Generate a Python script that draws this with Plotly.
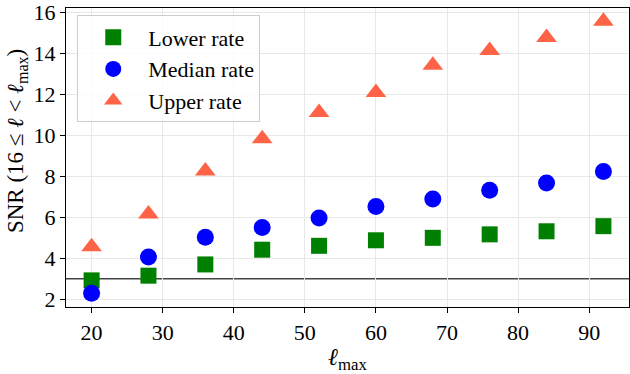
import plotly.graph_objects as go

ell_max = [20, 28, 36, 44, 52, 60, 68, 76, 84, 92]
lower_rate = [2.92, 3.15, 3.70, 4.42, 4.61, 4.88, 5.00, 5.17, 5.32, 5.57]
median_rate = [2.29, 4.06, 5.03, 5.51, 5.97, 6.53, 6.90, 7.33, 7.68, 8.24]
upper_rate = [4.56, 6.17, 8.26, 9.84, 11.12, 12.10, 13.43, 14.15, 14.79, 15.58]
threshold = 3.0

x_ticks = [20, 30, 40, 50, 60, 70, 80, 90]
y_ticks = [2, 4, 6, 8, 10, 12, 14, 16]

FONT = "Liberation Serif"

fig = go.Figure()
fig.add_trace(go.Scatter(x=ell_max, y=lower_rate, mode="markers", name="Lower rate",
                         marker=dict(symbol="square", size=16, color="green")))
fig.add_trace(go.Scatter(x=ell_max, y=median_rate, mode="markers", name="Median rate",
                         marker=dict(symbol="circle", size=17, color="blue")))
fig.add_trace(go.Scatter(x=ell_max, y=upper_rate, mode="markers", name="Upper rate",
                         marker=dict(symbol="triangle-up", size=18, color="tomato")))

fig.add_hline(y=threshold, line=dict(color="#444444", width=1.3), layer="below")

axis_common = dict(showline=True, linecolor="black", linewidth=1.3, mirror=True,
                   ticks="outside", ticklen=5, tickcolor="black",
                   showgrid=True, gridcolor="#e8e8e8", gridwidth=1, zeroline=False,
                   ticklabeloverflow="allow",
                   tickfont=dict(family=FONT, size=22, color="black"))

fig.update_layout(
    width=630, height=374,
    margin=dict(l=66, r=0, t=3, b=67),
    paper_bgcolor="white", plot_bgcolor="white",
    font=dict(family=FONT, color="black"),
    xaxis=dict(range=[16.4, 95.6], tickvals=x_ticks,
               title=dict(text="<i>ℓ</i><sub>max</sub>", font=dict(family=FONT, size=24), standoff=6),
               **axis_common),
    yaxis=dict(range=[1.62, 16.23], tickvals=y_ticks, **axis_common),
    legend=dict(x=0.02, y=0.975, xanchor="left", yanchor="top",
                bgcolor="rgba(255,255,255,0.8)", bordercolor="#cccccc", borderwidth=1,
                font=dict(family=FONT, size=22, color="black"), itemwidth=60),
    showlegend=True,
)

fig.add_annotation(text="SNR (16 ≤ <i>ℓ</i> &lt; <i>ℓ</i><sub>max</sub>)",
                   xref="paper", yref="paper", x=0, y=0.555,
                   xanchor="center", yanchor="middle", xshift=-49,
                   textangle=-90, showarrow=False,
                   font=dict(family=FONT, size=23, color="black"))

fig.write_html("out.html")
